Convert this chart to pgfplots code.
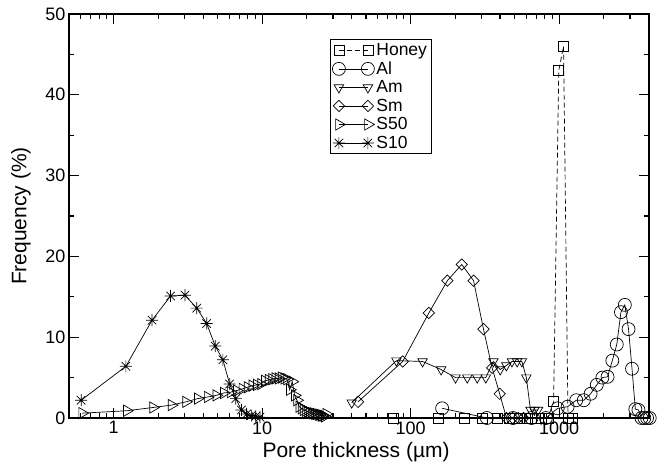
\documentclass[border=0pt]{standalone}
\usepackage{fontspec}
\setmainfont{Liberation Sans}
\usepackage{pgfplots}
\pgfplotsset{compat=1.18}

% grace-style eight-spoke star
\pgfdeclareplotmark{gstar}{%
  \pgfpathmoveto{\pgfqpoint{-\pgfplotmarksize}{0pt}}%
  \pgfpathlineto{\pgfqpoint{\pgfplotmarksize}{0pt}}%
  \pgfpathmoveto{\pgfqpoint{0pt}{-\pgfplotmarksize}}%
  \pgfpathlineto{\pgfqpoint{0pt}{\pgfplotmarksize}}%
  \pgfpathmoveto{\pgfqpoint{-.707\pgfplotmarksize}{-.707\pgfplotmarksize}}%
  \pgfpathlineto{\pgfqpoint{.707\pgfplotmarksize}{.707\pgfplotmarksize}}%
  \pgfpathmoveto{\pgfqpoint{-.707\pgfplotmarksize}{.707\pgfplotmarksize}}%
  \pgfpathlineto{\pgfqpoint{.707\pgfplotmarksize}{-.707\pgfplotmarksize}}%
  \pgfusepathqstroke}

\begin{document}
\begin{tikzpicture}
\path[use as bounding box] (-69pt,-49pt) rectangle (602pt,418pt);
\begin{axis}[
  at={(0pt,0pt)}, anchor=south west,
  scale only axis, width=580pt, height=404pt,
  xmode=log, xmin=0.5, xmax=4030, ymin=0, ymax=50,
  xtick={1,10,100,1000}, xticklabels={1,10,100,1000},
  minor xtick={0.6,0.7,0.8,0.9,2,3,4,5,6,7,8,9,20,30,40,50,60,70,80,90,200,300,400,500,600,700,800,900,2000,3000,4000},
  ytick={0,10,20,30,40,50}, minor ytick={5,15,25,35,45},
  major tick length=10pt, minor tick length=5pt,
  every tick/.style={black, line width=1.1pt},
  axis line style={line width=1.3pt},
  tick label style={font=\fontsize{18}{18}\selectfont},
  /pgf/number format/assume math mode=true,
  label style={font=\fontsize{21}{21}\selectfont},
  xlabel={Pore thickness (µm)},
  ylabel={Frequency (\%)},
  xlabel style={at={(axis description cs:0.495,-0.085)}, anchor=center},
  ylabel style={at={(axis description cs:-0.083,0.5)}, anchor=center},
  clip=false,
  legend cell align=left,
  legend style={at={(axis description cs:0.45,0.938)}, anchor=north west,
    draw=black, line width=0.8pt, font=\fontsize{17.5}{17.5}\selectfont,
    inner sep=2pt, row sep=0.8pt,
    /tikz/every even column/.style={column sep=2pt}},
  legend image code/.code={\draw[#1] plot coordinates {(0pt,0pt) (29pt,0pt)};},
]
% Honey
\addplot[black, line width=0.7pt, dash pattern=on 5pt off 3pt, mark=square, mark size=5pt, mark options={solid}] coordinates {
  (76.5,0) (153,0) (229.5,0) (306,0) (382.5,0) (459,0) (535.5,0) (612,0)
  (688.5,0) (765,0) (841.5,0) (918,2) (994.5,43) (1071,46) (1147.5,0) (1224,0)
};
\addlegendentry{Honey}
% Al
\addplot[black, line width=0.7pt, mark=o, mark size=6.5pt] coordinates {
  (163,1.2) (326,0) (489,0) (652,0) (815,0) (978,1.2) (1141,1.4) (1304,2.2)
  (1467,2.2) (1630,3.0) (1793,4.1) (1956,5.0) (2119,5.1) (2282,7.1) (2445,9.1)
  (2608,13.1) (2771,14.0) (2934,11.0) (3097,6.1) (3260,1.1) (3423,1.0)
  (3586,0) (3749,0) (3912,0) (4075,0)
};
\addlegendentry{Al}
% Am
\addplot[black, line width=0.7pt, mark=triangle, mark size=5.5pt, mark options={rotate=180}] coordinates {
  (40.1,1.9) (80.2,7.1) (120.3,7.0) (160.4,6.0) (200.5,5.0) (240.6,5.0)
  (280.7,5.0) (320.8,5.0) (360.9,7.0) (401,6.0) (441.1,6.5) (481.2,7.0)
  (521.3,7.0) (561.4,7.0) (601.5,5.0) (641.6,1.0) (681.7,1.0) (721.8,1.0)
};
\addlegendentry{Am}
% Sm
\addplot[black, line width=0.7pt, mark=square, mark size=4pt, mark options={rotate=45}] coordinates {
  (44.2,2.0) (88.4,7.0) (132.6,13.0) (176.8,17.0) (221,19.0) (265.2,17.0)
  (309.4,11.0) (353.6,6.2) (397.8,3.0) (442,0) (486.2,0) (530.4,0) (574.6,0)
};
\addlegendentry{Sm}
% S50
\addplot[black, line width=0.7pt, mark=triangle, mark size=6.5pt, mark options={rotate=-90}] coordinates {
  (0.613,0.6) (1.226,0.9) (1.839,1.3) (2.452,1.6) (3.065,2.0) (3.678,2.4)
  (4.291,2.6) (4.904,2.8) (5.517,3.1) (6.130,3.2) (6.743,3.4) (7.356,3.6)
  (7.969,3.8) (8.582,4.0) (9.195,4.1) (9.808,4.2) (10.42,4.6) (11.03,4.7)
  (11.65,4.8) (12.26,4.9) (12.87,4.9) (13.49,5.0) (14.10,4.9) (14.71,4.8)
  (15.33,3.5) (15.94,4.5) (16.55,2.8) (17.16,2.2) (17.78,1.4) (18.39,1.2)
  (19.00,1.0) (19.62,0.9) (20.23,0.8) (20.84,0.7) (21.46,0.6) (22.07,0.6)
  (22.68,0.5) (23.29,0.5) (23.91,0.4) (24.52,0.4) (25.13,0.3) (25.75,0.3)
  (26.36,0.2) (26.97,0.5)
};
\addlegendentry{S50}
% S10
\addplot[black, line width=0.7pt, mark=gstar, mark size=6pt] coordinates {
  (0.604,2.2) (1.208,6.4) (1.812,12.1) (2.416,15.1) (3.020,15.2) (3.624,13.6)
  (4.228,11.7) (4.832,8.9) (5.436,7.2) (6.040,4.2) (6.644,2.4) (7.248,1.0)
  (7.852,0.5) (8.456,0.3) (9.060,0.2) (9.664,0.1)
};
\addlegendentry{S10}
\end{axis}
\end{tikzpicture}
\end{document}
